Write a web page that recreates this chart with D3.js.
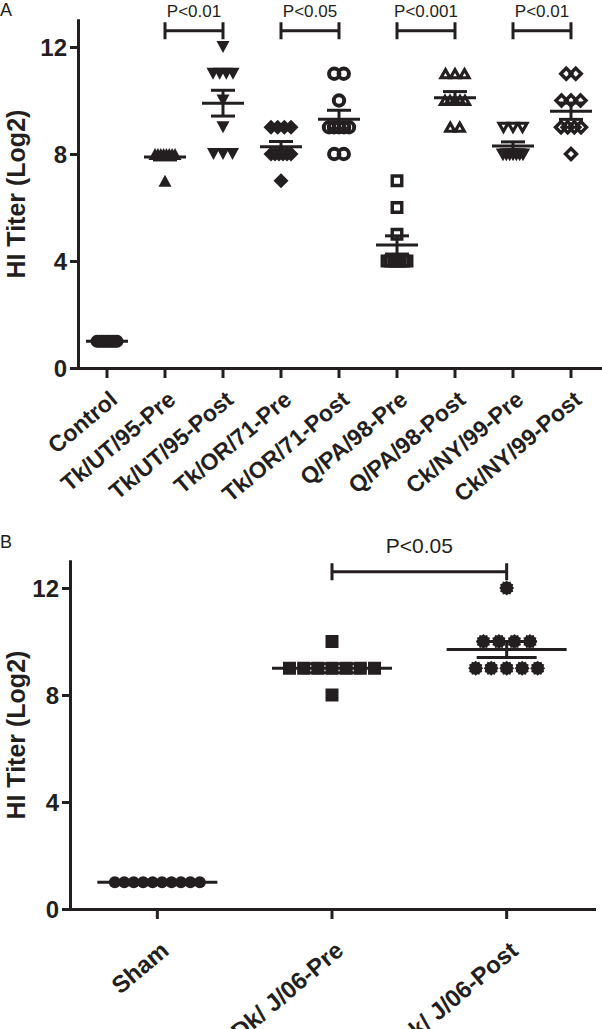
<!DOCTYPE html>
<html lang="en">
<head>
<meta charset="UTF-8">
<title>HI Titer (Log2)</title>
<script src="https://d3js.org/d3.v7.min.js"></script>
<style>
  body { margin: 0; background: #fff; }
  svg { display: block; font-family: "Liberation Sans", Arial, sans-serif; }
  .axis path, .axis line { stroke: #231f20; stroke-width: 3; }
  .axis path { stroke-linecap: square; }
  .axis text { fill: #231f20; font-weight: bold; }
  .stat line, .bracket path { stroke: #231f20; stroke-width: 3; fill: none; }
  .ptext, .panel { fill: #231f20; }
</style>
</head>
<body>
<svg id="chart" width="602" height="1029"></svg>
<script>
const yTicks = [0, 4, 8, 12]
const yMax = 13

// panel A
const groupsA = ["Control", "Tk/UT/95-Pre", "Tk/UT/95-Post", "Tk/OR/71-Pre", "Tk/OR/71-Post",
  "Q/PA/98-Pre", "Q/PA/98-Post", "Ck/NY/99-Pre", "Ck/NY/99-Post"]
const titersA = [
  [1, 1, 1, 1, 1, 1, 1, 1, 1, 1],
  [8, 8, 8, 8, 8, 8, 8, 8, 7],
  [12, 11, 11, 11, 11, 10, 9, 8, 8, 8],
  [9, 9, 9, 9, 8, 8, 8, 8, 8, 8, 7],
  [11, 11, 10, 9, 9, 9, 9, 9, 8, 8],
  [7, 6, 5, 4, 4, 4, 4, 4, 4, 4],
  [11, 11, 11, 10, 10, 10, 10, 10, 9, 9],
  [9, 9, 9, 8, 8, 8, 8, 8, 8, 8],
  [11, 11, 10, 10, 10, 9, 9, 9, 9, 8]
]
const pairsA = [[1, 2], [3, 4], [5, 6], [7, 8]]
const pLabelsA = ["P<0.01", "P<0.05", "P<0.001", "P<0.01"]

// panel B
const groupsB = ["Sham", "Dk/ J/06-Pre", "Dk/ J/06-Post"]
const titersB = [
  [1, 1, 1, 1, 1, 1, 1, 1, 1, 1],
  [10, 9, 9, 9, 9, 9, 9, 9, 8],
  [12, 10, 10, 10, 10, 9, 9, 9, 9, 9]
]
const pairsB = [[1, 2]]
const pLabelsB = ["P<0.05"]

function circlePath(r) {
	return `M${-r},0A${r},${r} 0 1,0 ${r},0A${r},${r} 0 1,0 ${-r},0Z`
}
function triPath(w, h, down) {
	const s = down ? -1 : 1
	return `M${-w / 2},${s * h / 2}L${w / 2},${s * h / 2}L0,${-s * h / 2}Z`
}
function diamondPath(w) {
	return `M0,${-w / 2}L${w / 2},0L0,${w / 2}L${-w / 2},0Z`
}
function squarePath(w) {
	return `M${-w / 2},${-w / 2}h${w}v${w}h${-w}Z`
}
function starPath(r1, r2, n) {
	const pts = d3.range(n * 2).map(i => {
		const a = Math.PI * i / n, r = i % 2 ? r2 : r1
		return [r * Math.sin(a), -r * Math.cos(a)]
	})
	return "M" + pts.join("L") + "Z"
}

const markersA = [
	{ d: circlePath(6.5), open: false },
	{ d: triPath(13, 12, false), open: false },
	{ d: triPath(13, 12, true), open: false },
	{ d: diamondPath(15), open: false },
	{ d: circlePath(5.2), open: true, sw: 4 },
	{ d: squarePath(9.5), open: true, sw: 3.4 },
	{ d: triPath(9, 8, false), open: true, sw: 3.2 },
	{ d: triPath(9, 8, true), open: true, sw: 3.2 },
	{ d: diamondPath(11), open: true, sw: 3.4 }
]
const markersB = [
	{ d: circlePath(6), open: false },
	{ d: squarePath(13), open: false },
	{ d: starPath(7.5, 6.2, 12), open: false }
]

const svg = d3.select("#chart")

function spread(values, spacing, maxSpread) {
	const out = []
	d3.group(values, v => v).forEach((arr, v) => {
		const n = arr.length
		const w = Math.min((n - 1) * spacing, maxSpread)
		arr.forEach((d, k) => out.push({ v: v, dx: n > 1 ? -w / 2 + k * w / (n - 1) : 0 }))
	})
	return out
}

function drawPanel(cfg) {
	const g = svg.append("g")
	const x = d3.scaleBand().domain(cfg.groups).range([cfg.left, cfg.right])
	const y = d3.scaleLinear().domain([0, yMax]).range([cfg.bottom, cfg.top])
	const cx = name => x(name) + x.bandwidth() / 2

	// axes
	g.append("g").classed("axis", true)
		.attr("transform", `translate(${cfg.left},0)`)
		.call(d3.axisLeft(y).tickValues(yTicks).tickSize(8).tickSizeOuter(0).tickPadding(3))
		.call(a => a.selectAll("text").style("font-size", "24px").attr("dy", "0.36em"))
	g.append("g").classed("axis", true)
		.attr("transform", `translate(0,${cfg.bottom})`)
		.call(d3.axisBottom(x).tickSize(10).tickSizeOuter(0))
		.call(a => a.selectAll("text")
			.style("font-size", cfg.labelSize + "px")
			.attr("text-anchor", "end")
			.attr("y", 0).attr("dy", 0)
			.attr("transform", `translate(${cfg.labelDx},${cfg.labelDy}) rotate(-40)`))

	g.append("text")
		.attr("transform", `translate(${cfg.titleX},${(cfg.top + cfg.bottom) / 2}) rotate(-90)`)
		.attr("text-anchor", "middle")
		.style("font-size", "25px").style("font-weight", "bold").attr("fill", "#231f20")
		.text("HI Titer (Log2)")

	g.append("text").classed("panel", true)
		.attr("x", 0).attr("y", cfg.panelY)
		.style("font-size", "18px")
		.text(cfg.panel)

	// points
	cfg.titers.forEach((vals, i) => {
		const m = cfg.markers[i]
		g.append("g").selectAll("path")
			.data(spread(vals, cfg.spacing, cfg.maxSpread))
			.join("path")
			.attr("d", m.d)
			.attr("transform", d => `translate(${cx(cfg.groups[i]) + d.dx},${y(d.v)})`)
			.attr("fill", m.open ? "none" : "#231f20")
			.attr("stroke", m.open ? "#231f20" : "none")
			.attr("stroke-width", m.open ? m.sw : 0)
	})

	// mean and SEM
	cfg.titers.forEach((vals, i) => {
		const c = cx(cfg.groups[i])
		const mean = d3.mean(vals)
		const sem = d3.deviation(vals) / Math.sqrt(vals.length)
		const s = g.append("g").classed("stat", true)
		s.append("line").attr("x1", c - cfg.meanHalf).attr("x2", c + cfg.meanHalf)
			.attr("y1", y(mean)).attr("y2", y(mean))
		if (sem > 0) {
			[mean - sem, mean + sem].forEach(v => {
				s.append("line").attr("x1", c - cfg.semHalf).attr("x2", c + cfg.semHalf)
					.attr("y1", y(v)).attr("y2", y(v))
			})
			s.append("line").attr("x1", c).attr("x2", c)
				.attr("y1", y(mean - sem)).attr("y2", y(mean + sem))
		}
	})

	// significance brackets
	cfg.pairs.forEach((p, i) => {
		const x1 = cx(cfg.groups[p[0]]), x2 = cx(cfg.groups[p[1]])
		const by = cfg.top + 10.5
		g.append("g").classed("bracket", true).append("path")
			.attr("d", `M${x1},${by - 8.5}V${by + 8.5}M${x1},${by}H${x2}M${x2},${by - 8.5}V${by + 8.5}`)
		g.append("text").classed("ptext", true)
			.attr("x", (x1 + x2) / 2).attr("y", cfg.top + cfg.pTextDy)
			.attr("text-anchor", "middle")
			.style("font-size", cfg.pSize + "px")
			.text(cfg.pLabels[i])
	})
}

drawPanel({
	panel: "A", panelY: 16,
	groups: groupsA, titers: titersA, markers: markersA,
	pairs: pairsA, pLabels: pLabelsA,
	left: 78, right: 600, top: 20.25, bottom: 368,
	labelSize: 23, labelDx: 12, labelDy: 34,
	titleX: 25, spacing: 9.5, maxSpread: 20,
	meanHalf: 21, semHalf: 12, pSize: 17, pTextDy: -3
})

drawPanel({
	panel: "B", panelY: 548,
	groups: groupsB, titers: titersB, markers: markersB,
	pairs: pairsB, pLabels: pLabelsB,
	left: 70, right: 594, top: 561.25, bottom: 909,
	labelSize: 24, labelDx: 13, labelDy: 44,
	titleX: 25, spacing: 15.5, maxSpread: 85,
	meanHalf: 60, semHalf: 30, pSize: 21, pTextDy: -8
})
</script>
</body>
</html>
